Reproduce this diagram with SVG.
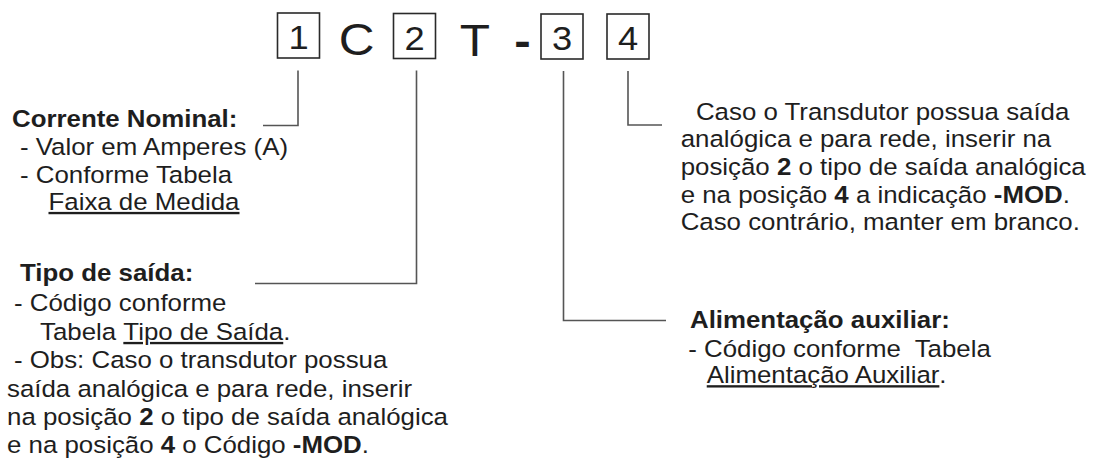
<svg xmlns="http://www.w3.org/2000/svg" width="1093" height="461" viewBox="0 0 1093 461">
<style>
  .t { font-family: "Liberation Sans", Arial, sans-serif; font-size: 23.5px; fill: #1e1e1e; }
  .b { font-weight: bold; }
  .u { text-decoration: underline; }
  .box { fill: none; stroke: #2a2a2a; stroke-width: 1.6; }
  .dig { font-family: "Liberation Sans", Arial, sans-serif; font-size: 33px; fill: #1e1e1e; text-anchor: middle; }
  .big { font-family: "Liberation Sans", Arial, sans-serif; font-size: 45px; fill: #1e1e1e; text-anchor: middle; }
  .con { fill: none; stroke: #555; stroke-width: 1.6; }
</style>
<rect width="1093" height="461" fill="#fff"/>

<g id="connectors">
  <path class="con" d="M298 70.5 V125.5 H263"/>
  <path class="con" d="M416.5 70.5 V283.5 H255"/>
  <path class="con" d="M563.5 71 V320.5 H666"/>
  <path class="con" d="M628 71 V125 H662"/>
</g>

<g id="code">
  <g id="pos1">
    <rect class="box" x="277.5" y="13" width="42" height="45"/>
    <text class="dig" transform="scale(1.1 1)" x="271.4" y="49.5">1</text>
  </g>
  <g id="letterC"><text class="big" transform="scale(1.1 1)" x="324.3" y="55.5">C</text></g>
  <g id="pos2">
    <rect class="box" x="393.5" y="13.5" width="42" height="45"/>
    <text class="dig" transform="scale(1.1 1)" x="376.8" y="50">2</text>
  </g>
  <g id="letterT"><text class="big" transform="scale(1.1 1)" x="431.8" y="56">T</text></g>
  <g id="dash"><text class="big b" transform="scale(1.1 1)" x="475" y="56">-</text></g>
  <g id="pos3">
    <rect class="box" x="541" y="14" width="42" height="45"/>
    <text class="dig" transform="scale(1.1 1)" x="510.9" y="50">3</text>
  </g>
  <g id="pos4">
    <rect class="box" x="607" y="14" width="42" height="45"/>
    <text class="dig" transform="scale(1.1 1)" x="570.9" y="50">4</text>
  </g>
</g>

<g id="corrente" transform="scale(1.1 1)">
  <text class="t b" x="10.9" y="126.7">Corrente Nominal:</text>
  <text class="t" x="18.2" y="155">- Valor em Amperes (A)</text>
  <text class="t" x="18.2" y="182.7">- Conforme Tabela</text>
  <text class="t" x="44.1" y="210"><tspan class="u">Faixa de Medida</tspan></text>
</g>

<g id="tipo" transform="scale(1.1 1)">
  <text class="t b" x="18.2" y="280.7">Tipo de saída:</text>
  <text class="t" x="12.7" y="310.7">- Código conforme</text>
  <text class="t" x="36.4" y="340">Tabela <tspan class="u">Tipo de Saída</tspan>.</text>
  <text class="t" x="12.7" y="368.3">- Obs: Caso o transdutor possua</text>
  <text class="t" x="6.4" y="396.7">saída analógica e para rede, inserir</text>
  <text class="t" x="6.4" y="425">na posição <tspan class="b">2</tspan> o tipo de saída analógica</text>
  <text class="t" x="6.4" y="453.3">e na posição <tspan class="b">4</tspan> o Código <tspan class="b">-MOD</tspan>.</text>
</g>

<g id="caso" transform="scale(1.1 1)">
  <text class="t" x="632.7" y="120">Caso o Transdutor possua saída</text>
  <text class="t" x="618.8" y="147.3">analógica e para rede, inserir na</text>
  <text class="t" x="618.8" y="175">posição <tspan class="b">2</tspan> o tipo de saída analógica</text>
  <text class="t" x="618.8" y="202.7">e na posição <tspan class="b">4</tspan> a indicação <tspan class="b">-MOD</tspan>.</text>
  <text class="t" x="618.8" y="230">Caso contrário, manter em branco.</text>
</g>

<g id="alimentacao" transform="scale(1.1 1)">
  <text class="t b" x="627.3" y="327.7">Alimentação auxiliar:</text>
  <text class="t" x="625.7" y="356.7" xml:space="preserve">- Código conforme  Tabela</text>
  <text class="t" x="642.5" y="383.3"><tspan class="u">Alimentação Auxiliar</tspan>.</text>
</g>
</svg>
